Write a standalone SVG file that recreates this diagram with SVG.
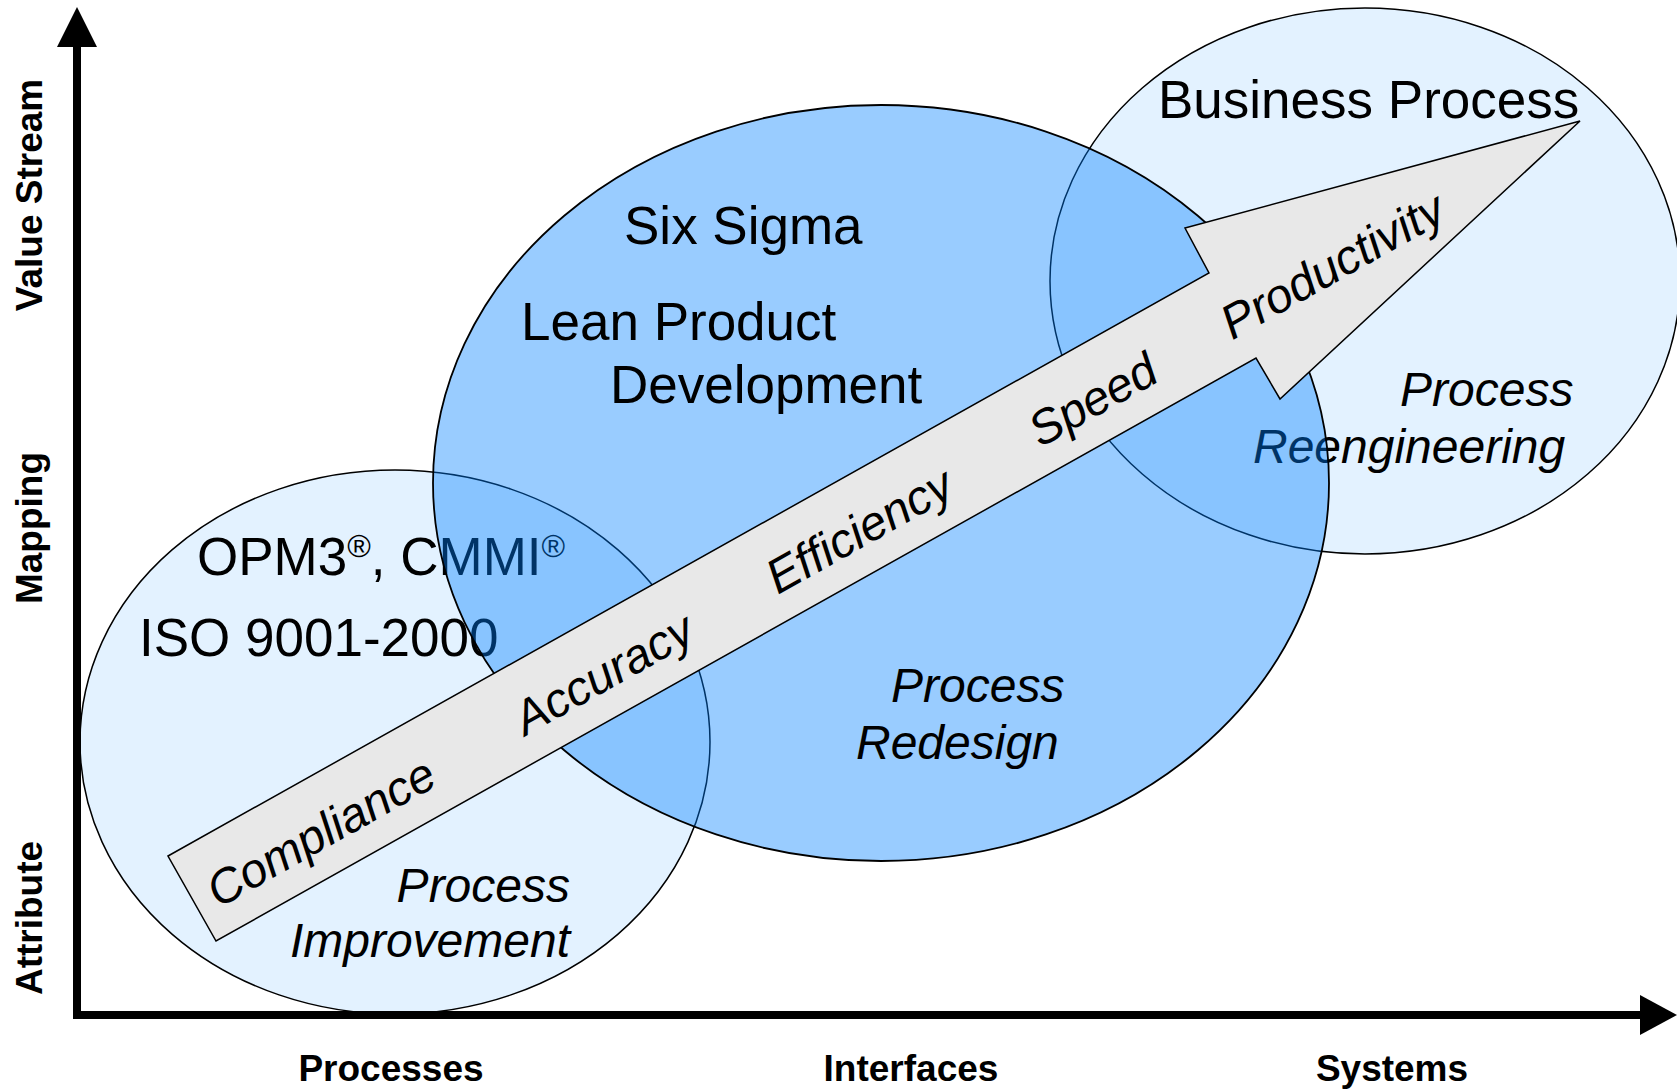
<svg xmlns="http://www.w3.org/2000/svg" width="1677" height="1089" viewBox="0 0 1677 1089">
  <style>
    .big { font-family: "Liberation Sans", Arial, sans-serif; font-size: 53px; fill: #000; }
    .ital { font-family: "Liberation Sans", Arial, sans-serif; font-size: 48px; font-style: italic; fill: #000; }
    .axis { font-family: "Liberation Sans", Arial, sans-serif; font-size: 37px; font-weight: bold; fill: #000; }
    .light { fill: #e3f2ff; stroke: #000; stroke-width: 1.5; }
    .mid { fill: #0080ff; fill-opacity: 0.4; stroke: #000; stroke-width: 1.8; }
    .sup { font-size: 32px; }
  </style>

  <rect width="1677" height="1089" fill="#fff"/>

  <!-- Process improvement circle -->
  <g id="improvement">
    <ellipse class="light" cx="395" cy="742" rx="315" ry="272"/>
    <text class="big" x="197" y="575">OPM3<tspan class="sup" dy="-18">®</tspan><tspan dy="18">, CMMI</tspan><tspan class="sup" dy="-18">®</tspan></text>
    <text class="big" x="139" y="656">ISO 9001-2000</text>
    <text class="ital" x="570" y="902" text-anchor="end">Process</text>
    <text class="ital" x="570" y="957" text-anchor="end">Improvement</text>
  </g>

  <!-- Business process reengineering circle -->
  <g id="reengineering">
    <ellipse class="light" cx="1365" cy="281" rx="315" ry="273"/>
    <text class="big" x="1158" y="118">Business Process</text>
    <text class="ital" x="1400" y="406">Process</text>
    <text class="ital" x="1253" y="463">Reengineering</text>
  </g>

  <!-- Redesign ellipse, translucent over the two circles -->
  <g id="redesign">
    <ellipse class="mid" cx="881" cy="483" rx="448" ry="378"/>
    <text class="big" x="624" y="244">Six Sigma</text>
    <text class="big" x="521" y="340">Lean Product</text>
    <text class="big" x="610" y="403">Development</text>
    <text class="ital" x="891" y="702">Process</text>
    <text class="ital" x="856" y="759">Redesign</text>
  </g>

  <!-- Big progress arrow -->
  <g id="progress">
    <polygon points="168,856 1209,273 1185,228 1580,121 1280,399 1256,358 216,941" fill="#e8e8e8" stroke="#000" stroke-width="1.5" stroke-linejoin="miter"/>
    <g transform="translate(192,898) rotate(-29.26)">
      <text class="ital" x="18" y="22">Compliance</text>
      <text class="ital" x="370" y="22">Accuracy</text>
      <text class="ital" x="659" y="22">Efficiency</text>
      <text class="ital" x="960" y="22">Speed</text>
      <text class="ital" x="1180" y="22">Productivity</text>
    </g>
  </g>

  <!-- Axes -->
  <g id="axes">
    <line x1="77" y1="44" x2="77" y2="1019" stroke="#000" stroke-width="8"/>
    <polygon points="77,7 57,47 97,47" fill="#000"/>
    <line x1="73" y1="1015" x2="1644" y2="1015" stroke="#000" stroke-width="8"/>
    <polygon points="1677,1015 1640,995 1640,1035" fill="#000"/>
  </g>

  <g id="axis-labels">
    <text class="axis" transform="translate(42,195) rotate(-90)" text-anchor="middle">Value Stream</text>
    <text class="axis" transform="translate(42,528) rotate(-90)" text-anchor="middle">Mapping</text>
    <text class="axis" transform="translate(42,918) rotate(-90)" text-anchor="middle">Attribute</text>
    <text class="axis" x="391" y="1081" text-anchor="middle">Processes</text>
    <text class="axis" x="911" y="1081" text-anchor="middle">Interfaces</text>
    <text class="axis" x="1392" y="1081" text-anchor="middle">Systems</text>
  </g>
</svg>
